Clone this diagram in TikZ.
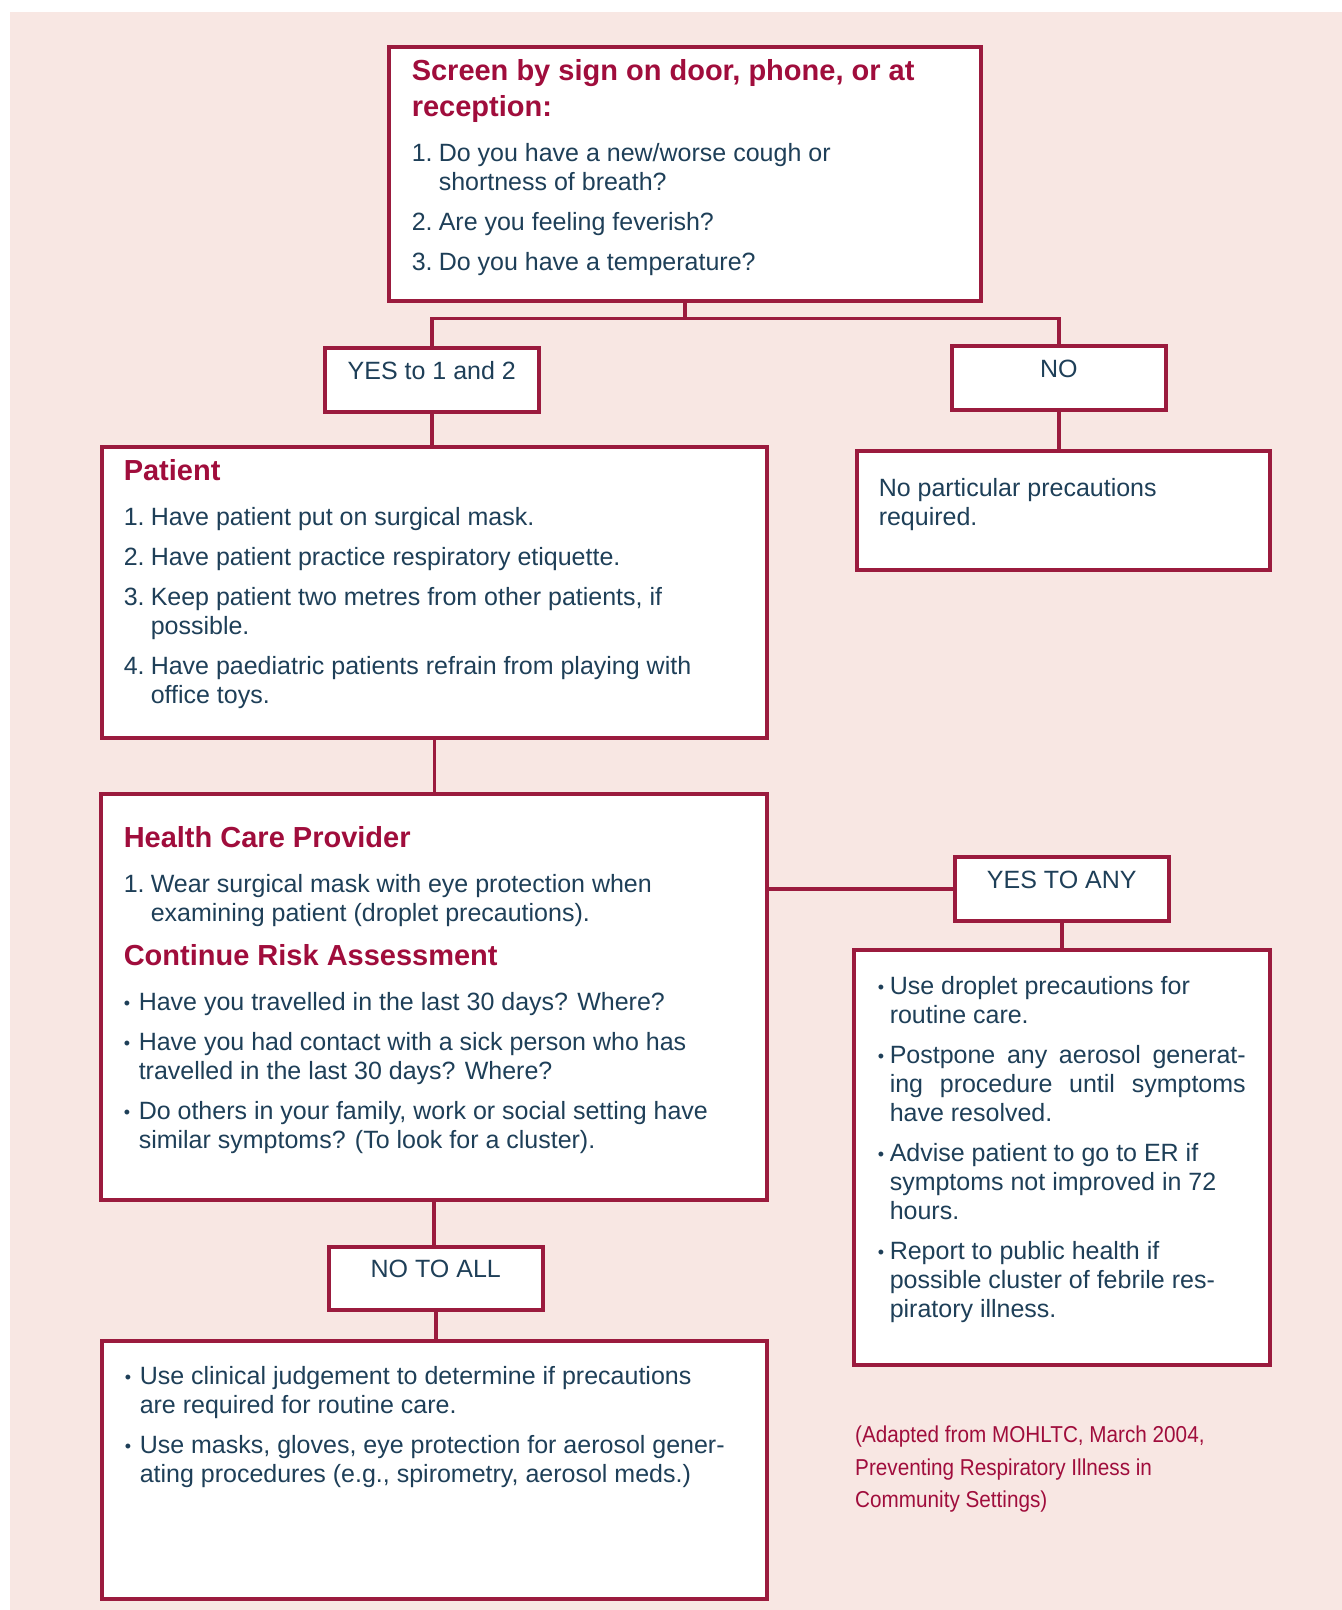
\documentclass[tikz,border=0pt]{standalone}
\usepackage{fontspec}
\setmainfont{Liberation Sans}
\newfontfamily\notefont[FakeStretch=0.9]{Liberation Sans}

\definecolor{boxred}{HTML}{9B1B3E}
\definecolor{titlered}{HTML}{A00D3C}
\definecolor{bodyblue}{HTML}{1E3F58}
\definecolor{bgpink}{HTML}{F8E7E3}

\newcommand{\bodyfont}{\fontsize{25}{29}\selectfont}
\newcommand{\boxtitle}[1]{{\fontsize{29}{36}\selectfont\bfseries\color{titlered}#1\par}\vspace{5pt}}
\newcommand{\numitem}[2]{\hangindent=27pt\hangafter=1\noindent\makebox[27pt][l]{#1}#2\par}
\newcommand{\smallbullet}{{\fontsize{18}{18}\selectfont\raisebox{1pt}{\textbullet}}}
\newcommand{\bulitem}[2]{\hangindent=#1\hangafter=1\noindent\makebox[#1][l]{\smallbullet}#2\par}
% width, height, top gap, content
\newcommand{\panelbody}[4]{\begin{minipage}[t][#2][t]{#1}\setlength{\parskip}{11pt}\vspace*{\dimexpr #3-2pt\relax}#4\end{minipage}}

\tikzset{
  panel/.style={draw=boxred, line width=3.5pt, fill=white, inner sep=0pt, anchor=north west, font=\bodyfont, text=bodyblue},
  answer/.style={panel, minimum width=214pt, minimum height=64pt},
  link/.style={draw=boxred, line width=3.5pt}
}

\begin{document}
\begin{tikzpicture}[x=1pt, y=-1pt]

\useasboundingbox (0,0) rectangle (1342,1610);
\fill[bgpink] (10,12) rectangle (1342,1610);

% screening questions
\node[panel, minimum width=592pt, minimum height=254pt] (screen) at (387,45) {\panelbody{546pt}{254pt}{14.5pt}{%
  \boxtitle{Screen by sign on door, phone, or at\\reception:}
  \numitem{1.}{Do you have a new/worse cough or\\shortness of breath?}
  \numitem{2.}{Are you feeling feverish?}
  \numitem{3.}{Do you have a temperature?}}};

\node[answer] (yes) at (323,346) {\panelbody{214pt}{64pt}{16pt}{\centering YES to 1 and 2\par}};
\node[answer] (no) at (950,344) {\panelbody{214pt}{64pt}{16pt}{\centering NO\par}};

\node[panel, minimum width=665pt, minimum height=291pt] (patient) at (100,445) {\panelbody{621pt}{291pt}{15pt}{%
  \boxtitle{Patient}
  \numitem{1.}{Have patient put on surgical mask.}
  \numitem{2.}{Have patient practice respiratory etiquette.}
  \numitem{3.}{Keep patient two metres from other patients, if\\possible.}
  \numitem{4.}{Have paediatric patients refrain from playing with\\office toys.}}};

\node[panel, minimum width=413pt, minimum height=119pt] (nopart) at (855,449) {\panelbody{369pt}{119pt}{30pt}{%
  \noindent No particular precautions\\required.\par}};

% provider and risk assessment
\node[panel, minimum width=666pt, minimum height=406pt] (hcp) at (99,792) {\panelbody{620pt}{406pt}{35pt}{%
  \boxtitle{Health Care Provider}
  \numitem{1.}{Wear surgical mask with eye protection when\\examining patient (droplet precautions).}
  \vspace{-3pt}
  \boxtitle{Continue Risk Assessment}
  \bulitem{15pt}{Have you travelled in the last 30 days? Where?}
  \bulitem{15pt}{Have you had contact with a sick person who has\\travelled in the last 30 days? Where?}
  \bulitem{15pt}{Do others in your family, work or social setting have\\similar symptoms? (To look for a cluster).}}};

\node[answer] (yesany) at (953,855) {\panelbody{214pt}{64pt}{16pt}{\centering YES TO ANY\par}};

\node[panel, minimum width=416pt, minimum height=415pt] (anyacts) at (852,948) {\panelbody{368pt}{415pt}{29pt}{%
  \bulitem{12pt}{Use droplet precautions for\\routine care.}
  \bulitem{12pt}{\makebox[356pt][s]{Postpone any aerosol generat-}\\\makebox[356pt][s]{ing procedure until symptoms}\\have resolved.}
  \bulitem{12pt}{Advise patient to go to ER if\\symptoms not improved in 72\\hours.}
  \bulitem{12pt}{Report to public health if\\possible cluster of febrile res-\\piratory illness.}}};

\node[answer, minimum height=63pt] (noall) at (327,1245) {\panelbody{214pt}{63pt}{15pt}{\centering NO TO ALL\par}};

\node[panel, minimum width=665pt, minimum height=258pt] (final) at (100,1339) {\panelbody{619pt}{258pt}{28pt}{%
  \bulitem{15pt}{Use clinical judgement to determine if precautions\\are required for routine care.}
  \bulitem{15pt}{Use masks, gloves, eye protection for aerosol gener-\\ating procedures (e.g., spirometry, aerosol meds.)}}};

\node[anchor=north west, inner sep=0pt, align=left, text=titlered, font={\notefont\fontsize{23}{32.5}\selectfont}] (source) at (855,1426)
  {(Adapted from MOHLTC, March 2004,\\Preventing Respiratory Illness in\\Community Settings)};

% connectors
\draw[link] (screen.south) -- ++(0,16) -| (yes.north);
\draw[link] (screen.south) -- ++(0,16) -| (no.north);
\draw[link] (yes.south) -- (yes.south |- patient.north);
\draw[link] (no.south) -- (no.south |- nopart.north);
\draw[link] (patient.south) -- (patient.south |- hcp.north);
\draw[link] (yesany.west -| hcp.east) -- (yesany.west);
\draw[link] (yesany.south) -- (yesany.south |- anyacts.north);
\draw[link] (hcp.south) -- (hcp.south |- noall.north);
\draw[link] (noall.south) -- (noall.south |- final.north);

\end{tikzpicture}
\end{document}
